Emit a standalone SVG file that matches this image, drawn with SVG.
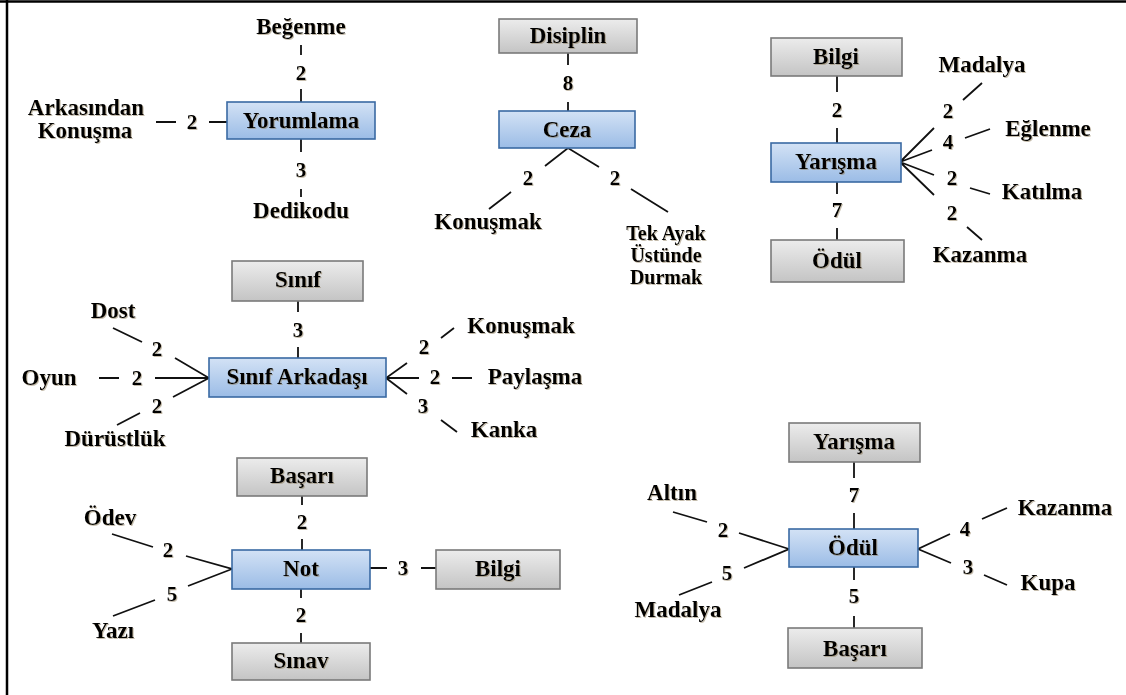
<svg xmlns="http://www.w3.org/2000/svg" width="1126" height="695" viewBox="0 0 1126 695">
<defs>
<linearGradient id="gBlue" x1="0" y1="0" x2="0" y2="1">
<stop offset="0" stop-color="#d3e2f5"/>
<stop offset="1" stop-color="#9bbce6"/>
</linearGradient>
<linearGradient id="gGrey" x1="0" y1="0" x2="0" y2="1">
<stop offset="0" stop-color="#ececec"/>
<stop offset="1" stop-color="#c4c4c4"/>
</linearGradient>
<filter id="ts" x="-10%" y="-30%" width="120%" height="160%">
<feDropShadow dx="1" dy="1" stdDeviation="0.7" flood-color="#8a7a5a" flood-opacity="0.5"/>
</filter>
</defs>
<style>
text{font-family:"Liberation Serif","Times New Roman",serif;font-weight:bold;fill:#000;text-anchor:middle;filter:url(#ts)}
.lbl{font-size:23px}
.sm{font-size:20px}
.num{font-size:21px}
.ln{stroke:#111;stroke-width:1.8;fill:none;stroke-linecap:butt}
.blue{fill:url(#gBlue);stroke:#3a6aa3;stroke-width:1.6}
.grey{fill:url(#gGrey);stroke:#7a7a7a;stroke-width:1.6}
.frame{stroke:#000;stroke-width:2.5}
</style>
<rect width="1126" height="695" fill="#fff"/>
<line class="frame" x1="0" y1="1.5" x2="1126" y2="1.5"/>
<line class="frame" x1="7" y1="0" x2="7" y2="695"/>

<g id="connectors">
<!-- Yorumlama -->
<path class="ln" d="M301 45V55M301 89V102M301 139V152M301 189V197M156 122H176M209 122H227"/>
<text class="num" x="301" y="80">2</text>
<text class="num" x="301" y="177">3</text>
<text class="num" x="192" y="129">2</text>
<!-- Ceza -->
<path class="ln" d="M568 53V65M568 102V111M545 166L568 148L599 167M511 192L489 209M631 189L668 212"/>
<text class="num" x="568" y="90">8</text>
<text class="num" x="528" y="185">2</text>
<text class="num" x="615" y="185">2</text>
<!-- Yarisma -->
<path class="ln" d="M837 76V92M837 128V143M837 182V194M837 228V240M934 128L900 162L932 150M900 162L934 175M900 162L934 195M963 100L982 83M965 138L990 129M970 188L990 194M967 227L982 240"/>
<text class="num" x="837" y="117">2</text>
<text class="num" x="837" y="217">7</text>
<text class="num" x="948" y="118">2</text>
<text class="num" x="948" y="149">4</text>
<text class="num" x="952" y="185">2</text>
<text class="num" x="952" y="220">2</text>
<!-- Sinif Arkadasi -->
<path class="ln" d="M298 301V312M298 347V358M175 358L209 378L155 378M209 378L173 397M113 328L142 342M99 378H119M117 425L140 413M407 363L386 378L419 378M386 378L407 394M441 338L454 328M452 378H472M441 420L457 432"/>
<text class="num" x="298" y="337">3</text>
<text class="num" x="157" y="356">2</text>
<text class="num" x="137" y="385">2</text>
<text class="num" x="157" y="413">2</text>
<text class="num" x="424" y="354">2</text>
<text class="num" x="435" y="384">2</text>
<text class="num" x="423" y="413">3</text>
<!-- Not -->
<path class="ln" d="M302 496V505M302 539V550M301 589V598M301 633V643M186 556L232 569L188 586M112 534L153 547M113 616L155 600M370 568H387M421 568H436"/>
<text class="num" x="302" y="529">2</text>
<text class="num" x="301" y="622">2</text>
<text class="num" x="168" y="557">2</text>
<text class="num" x="172" y="601">5</text>
<text class="num" x="403" y="575">3</text>
<!-- Odul -->
<path class="ln" d="M854 462V478M854 513V529M854 567V580M854 616V628M739 533L789 549L744 568M673 512L707 522M679 595L712 582M950 534L918 549L951 563M982 519L1007 508M984 575L1007 585"/>
<text class="num" x="854" y="502">7</text>
<text class="num" x="854" y="603">5</text>
<text class="num" x="723" y="537">2</text>
<text class="num" x="727" y="580">5</text>
<text class="num" x="965" y="536">4</text>
<text class="num" x="968" y="574">3</text>
</g>

<!-- Yorumlama cluster -->
<g id="yorumlama"><rect class="blue" x="227" y="102" width="148" height="37"/><text class="lbl" x="301" y="128">Yorumlama</text></g>
<g id="begenme"><text class="lbl" x="301" y="34">Beğenme</text></g>
<g id="dedikodu"><text class="lbl" x="301" y="218">Dedikodu</text></g>
<g id="arkasindan"><text class="lbl" x="86" y="115">Arkasından</text><text class="lbl" x="85" y="138">Konuşma</text></g>

<!-- Ceza cluster -->
<g id="disiplin"><rect class="grey" x="499" y="19" width="138" height="34"/><text class="lbl" x="568" y="43">Disiplin</text></g>
<g id="ceza"><rect class="blue" x="499" y="111" width="136" height="37"/><text class="lbl" x="567" y="137">Ceza</text></g>
<g id="konusmak1"><text class="lbl" x="488" y="229">Konuşmak</text></g>
<g id="tekayak"><text class="sm" x="666" y="240">Tek Ayak</text><text class="sm" x="666" y="262">Üstünde</text><text class="sm" x="666" y="284">Durmak</text></g>

<!-- Yarisma cluster -->
<g id="bilgi1"><rect class="grey" x="771" y="38" width="131" height="38"/><text class="lbl" x="836" y="64">Bilgi</text></g>
<g id="yarisma1"><rect class="blue" x="771" y="143" width="130" height="39"/><text class="lbl" x="836" y="169">Yarışma</text></g>
<g id="odul1"><rect class="grey" x="771" y="240" width="133" height="42"/><text class="lbl" x="837" y="268">Ödül</text></g>
<g id="madalya1"><text class="lbl" x="982" y="72">Madalya</text></g>
<g id="eglenme"><text class="lbl" x="1048" y="136">Eğlenme</text></g>
<g id="katilma"><text class="lbl" x="1042" y="199">Katılma</text></g>
<g id="kazanma1"><text class="lbl" x="980" y="262">Kazanma</text></g>

<!-- Sinif Arkadasi cluster -->
<g id="sinif"><rect class="grey" x="232" y="261" width="131" height="40"/><text class="lbl" x="298" y="287">Sınıf</text></g>
<g id="sinifarkadasi"><rect class="blue" x="209" y="358" width="177" height="39"/><text class="lbl" x="297" y="384">Sınıf Arkadaşı</text></g>
<g id="dost"><text class="lbl" x="113" y="318">Dost</text></g>
<g id="oyun"><text class="lbl" x="49" y="385">Oyun</text></g>
<g id="durustluk"><text class="lbl" x="115" y="446">Dürüstlük</text></g>
<g id="konusmak2"><text class="lbl" x="521" y="333">Konuşmak</text></g>
<g id="paylasma"><text class="lbl" x="535" y="384">Paylaşma</text></g>
<g id="kanka"><text class="lbl" x="504" y="437">Kanka</text></g>

<!-- Not cluster -->
<g id="basari1"><rect class="grey" x="237" y="458" width="130" height="38"/><text class="lbl" x="302" y="483">Başarı</text></g>
<g id="not"><rect class="blue" x="232" y="550" width="138" height="39"/><text class="lbl" x="301" y="576">Not</text></g>
<g id="sinav"><rect class="grey" x="232" y="643" width="138" height="37"/><text class="lbl" x="301" y="668">Sınav</text></g>
<g id="bilgi2"><rect class="grey" x="436" y="550" width="124" height="39"/><text class="lbl" x="498" y="576">Bilgi</text></g>
<g id="odev"><text class="lbl" x="110" y="525">Ödev</text></g>
<g id="yazi"><text class="lbl" x="113" y="638">Yazı</text></g>

<!-- Odul cluster -->
<g id="yarisma2"><rect class="grey" x="789" y="423" width="131" height="39"/><text class="lbl" x="854" y="449">Yarışma</text></g>
<g id="odul2"><rect class="blue" x="789" y="529" width="129" height="38"/><text class="lbl" x="853" y="555">Ödül</text></g>
<g id="basari2"><rect class="grey" x="788" y="628" width="134" height="40"/><text class="lbl" x="855" y="656">Başarı</text></g>
<g id="altin"><text class="lbl" x="672" y="500">Altın</text></g>
<g id="madalya2"><text class="lbl" x="678" y="617">Madalya</text></g>
<g id="kazanma2"><text class="lbl" x="1065" y="515">Kazanma</text></g>
<g id="kupa"><text class="lbl" x="1048" y="590">Kupa</text></g>
</svg>
